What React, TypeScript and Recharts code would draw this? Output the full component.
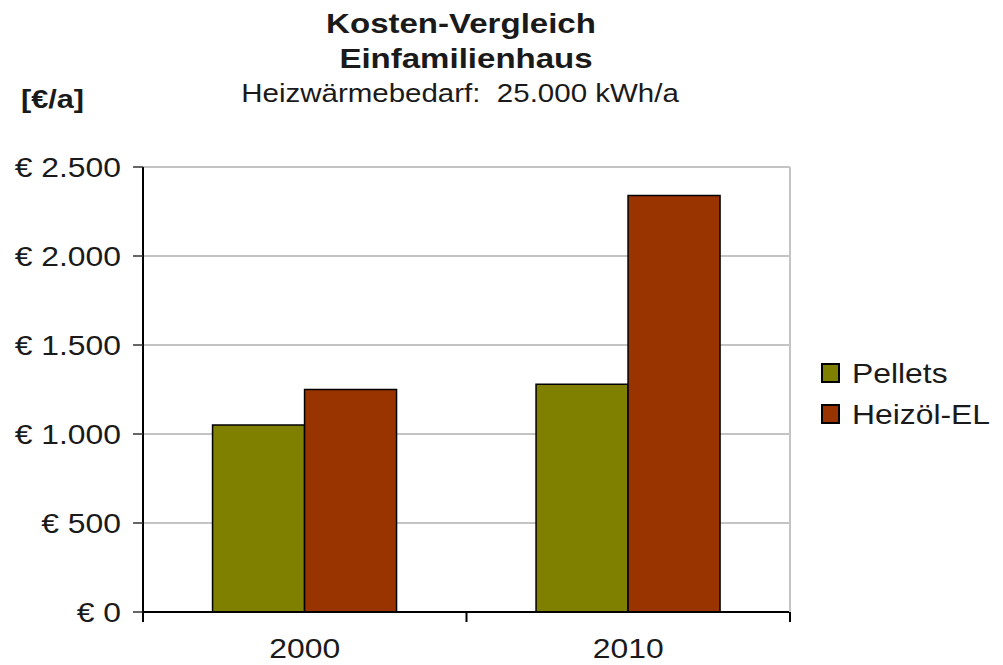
import React from 'react';
import { BarChart, Bar, XAxis, YAxis, CartesianGrid, Legend } from 'recharts';

const categories = ['2000', '2010'];
const pelletsValues = [1050, 1280];
const heizoelValues = [1250, 2340];
const yTicks = [0, 500, 1000, 1500, 2000, 2500];
const yTickLabels = ['€ 0', '€ 500', '€ 1.000', '€ 1.500', '€ 2.000', '€ 2.500'];
const seriesNames = ['Pellets', 'Heizöl-EL'];
const seriesColors = ['#808000', '#993300'];
const titleLines = ['Kosten-Vergleich', 'Einfamilienhaus'];
const subtitle = 'Heizwärmebedarf:  25.000 kWh/a';
const unitLabel = '[€/a]';

const data = categories.map((c, i) => ({
  year: c,
  pellets: pelletsValues[i],
  heizoel: heizoelValues[i],
}));

const W = 1003;
const H = 665;
const MARGIN = { top: 167, right: 212, bottom: 0, left: 13 };
const Y_AXIS_W = 130;
const Y_AXIS_R_W = 1;
const X_AXIS_H = 53;
const PLOT_W = W - MARGIN.left - Y_AXIS_W - MARGIN.right - Y_AXIS_R_W;
const SX = 1.18;
const FONT = '"Liberation Sans", Arial, sans-serif';
const TEXT = '#1a1a1a';
const GRID = '#c4c4c4';

const YTick = (props: any) => {
  const { x, y, payload } = props;
  const idx = yTicks.indexOf(payload.value);
  return (
    <text
      transform={`translate(${x},${y + 10}) scale(${SX},1)`}
      textAnchor="end"
      fontFamily={FONT}
      fontSize={27}
      fill={TEXT}
    >
      {yTickLabels[idx]}
    </text>
  );
};

const XTick = (props: any) => {
  const { x, y, payload, index } = props;
  const half = (payload && payload.offset) || PLOT_W / categories.length / 2;
  return (
    <g>
      <line x1={x - half} x2={x - half} y1={y} y2={y + 10} stroke="#000" strokeWidth={2} />
      {index === categories.length - 1 && (
        <line x1={x + half} x2={x + half} y1={y} y2={y + 10} stroke="#000" strokeWidth={2} />
      )}
      <text
        transform={`translate(${x},${y + 46}) scale(${SX},1)`}
        textAnchor="middle"
        fontFamily={FONT}
        fontSize={27}
        fill={TEXT}
      >
        {payload.value}
      </text>
    </g>
  );
};

const LegendContent = (props: any) => {
  const payload = [...(props.payload || [])].sort(
    (a: any, b: any) => seriesNames.indexOf(a.value) - seriesNames.indexOf(b.value)
  );
  return (
    <svg width={188} height={90} style={{ display: 'block' }}>
      {payload.map((p: any, i: number) => (
        <g key={i}>
          <rect x={7} y={9 + i * 41} width={17} height={18} fill={p.color} stroke="#000" strokeWidth={2} />
          <text
            transform={`translate(37,${28 + i * 41}) scale(${SX},1)`}
            fontFamily={FONT}
            fontSize={27}
            fill={TEXT}
          >
            {p.value}
          </text>
        </g>
      ))}
    </svg>
  );
};

export default function App() {
  return (
    <div style={{ position: 'absolute', left: 0, top: 0, width: W, height: H, background: '#fff' }}>
      <BarChart
        width={W}
        height={H}
        data={data}
        margin={MARGIN}
        barCategoryGap="21.5%"
        barGap={0}
      >
        <CartesianGrid yAxisId="left" vertical={false} stroke={GRID} strokeWidth={2} />
        <XAxis
          dataKey="year"
          height={X_AXIS_H}
          axisLine={{ stroke: '#000', strokeWidth: 2 }}
          tickLine={false}
          tickSize={0}
          tickMargin={0}
          tick={<XTick />}
          interval={0}
        />
        <YAxis
          yAxisId="left"
          width={Y_AXIS_W}
          domain={[0, 2500]}
          ticks={yTicks}
          interval={0}
          axisLine={{ stroke: '#000', strokeWidth: 2 }}
          tickLine={{ stroke: '#333', strokeWidth: 1.5 }}
          tickSize={10}
          tickMargin={12}
          tick={<YTick />}
        />
        <YAxis
          yAxisId="right"
          orientation="right"
          width={Y_AXIS_R_W}
          domain={[0, 2500]}
          ticks={yTicks}
          tick={false}
          tickLine={false}
          axisLine={{ stroke: GRID, strokeWidth: 2 }}
        />
        <Legend
          layout="horizontal"
          verticalAlign="middle"
          align="center"
          content={<LegendContent />}
          wrapperStyle={{ position: 'absolute', left: 815, top: 355, width: 188 }}
        />
        <Bar
          yAxisId="left"
          dataKey="pellets"
          name={seriesNames[0]}
          fill={seriesColors[0]}
          stroke="#000"
          strokeWidth={1.5}
          isAnimationActive={false}
        />
        <Bar
          yAxisId="left"
          dataKey="heizoel"
          name={seriesNames[1]}
          fill={seriesColors[1]}
          stroke="#000"
          strokeWidth={1.5}
          isAnimationActive={false}
        />
      </BarChart>
      <svg
        width={W}
        height={H}
        style={{ position: 'absolute', left: 0, top: 0, pointerEvents: 'none' }}
      >
        <text
          transform={`translate(461,33) scale(${SX},1)`}
          textAnchor="middle"
          fontFamily={FONT}
          fontWeight="bold"
          fontSize={28}
          fill={TEXT}
        >
          {titleLines[0]}
        </text>
        <text
          transform={`translate(466,68) scale(${SX},1)`}
          textAnchor="middle"
          fontFamily={FONT}
          fontWeight="bold"
          fontSize={28}
          fill={TEXT}
        >
          {titleLines[1]}
        </text>
        <text
          transform={`translate(460,102) scale(${SX},1)`}
          textAnchor="middle"
          fontFamily={FONT}
          fontSize={25}
          fill={TEXT}
          style={{ whiteSpace: 'pre' }}
        >
          {subtitle}
        </text>
        <text
          transform={`translate(21,108) scale(${SX},1)`}
          fontFamily={FONT}
          fontWeight="bold"
          fontSize={26}
          fill={TEXT}
        >
          {unitLabel}
        </text>
      </svg>
    </div>
  );
}
